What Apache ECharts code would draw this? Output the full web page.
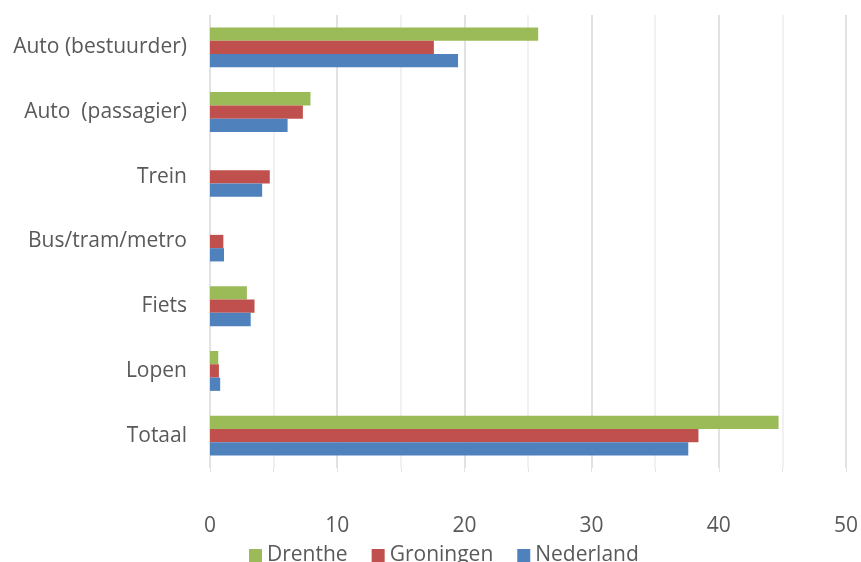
<!DOCTYPE html>
<html>
<head>
<meta charset="utf-8">
<style>
  html, body { margin: 0; padding: 0; background: #ffffff; }
  #chart { width: 861px; height: 562px; }
</style>
<script src="https://cdn.jsdelivr.net/npm/echarts@6/dist/echarts.min.js"></script>
</head>
<body>
<div id="chart"></div>
<script>
// Vervoerwijzen, van boven naar beneden
const categories = ['Auto (bestuurder)', 'Auto  (passagier)', 'Trein', 'Bus/tram/metro', 'Fiets', 'Lopen', 'Totaal'];

const drenthe   = [25.8, 7.9, 0,   0,   2.9, 0.65, 44.7];
const groningen = [17.6, 7.3, 4.7, 1.05, 3.5, 0.7, 38.4];
const nederland = [19.5, 6.1, 4.1, 1.1, 3.2, 0.8, 37.6];

const seriesNames = ['Drenthe', 'Groningen', 'Nederland'];
const seriesColors = ['#9BBB59', '#C0504D', '#4F81BD'];
const seriesData = [drenthe, groningen, nederland];

const xTicks = [0, 10, 20, 30, 40, 50];

const font = '"Open Sans", "Noto Sans", sans-serif';

const chart = echarts.init(document.getElementById('chart'), null, { renderer: 'canvas' });

chart.setOption({
  animation: false,
  backgroundColor: '#ffffff',
  grid: { left: 210, right: 15, top: 15, bottom: 94, containLabel: false },
  legend: {
    data: seriesNames,
    bottom: -9,
    left: 244,
    itemWidth: 13,
    itemHeight: 13,
    itemGap: 24,
    icon: 'rect',
    textStyle: { color: '#595959', fontSize: 21, fontFamily: font, padding: [0, 0, 0, 0] }
  },
  xAxis: {
    type: 'value',
    min: 0,
    max: 50,
    interval: 5,
    axisLine: { show: false },
    axisTick: { show: true, length: 4, lineStyle: { color: '#e3e3e3' } },
    splitLine: { show: true, lineStyle: { color: ['#d9d9d9', '#ededed'], width: 1.5 } },
    axisLabel: {
      margin: 48,
      color: '#595959',
      fontSize: 21,
      fontFamily: font,
      formatter: v => (xTicks.indexOf(v) >= 0 ? String(v) : '')
    }
  },
  yAxis: {
    type: 'category',
    data: categories,
    inverse: true,
    axisLine: { show: false },
    axisTick: { show: false },
    axisLabel: { margin: 23, color: '#595959', fontSize: 21, fontFamily: font }
  },
  series: seriesData.map((d, i) => ({
    name: seriesNames[i],
    type: 'bar',
    data: d,
    barWidth: 13.3,
    barGap: '0%',
    itemStyle: { color: seriesColors[i] }
  }))
});
</script>
</body>
</html>
